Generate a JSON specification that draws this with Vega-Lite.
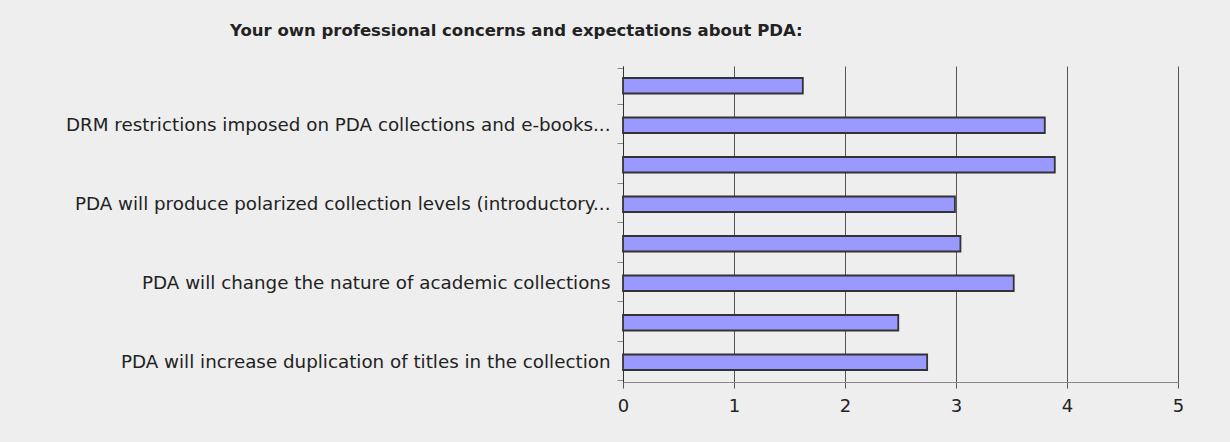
{
  "$schema": "https://vega.github.io/schema/vega-lite/v6.json",
  "width": 555,
  "height": 316,
  "autosize": {"type": "none"},
  "padding": {"left": 623, "top": 66, "right": 52, "bottom": 60},
  "background": "#eeeeee",
  "title": {
    "text": "Your own professional concerns and expectations about PDA:",
    "anchor": "start",
    "frame": "group",
    "dx": -393,
    "offset": 4,
    "baseline": "alphabetic",
    "font": "DejaVu Sans",
    "fontSize": 16.5,
    "fontWeight": "bold",
    "color": "#222222"
  },
  "data": {
    "values": [
      {"order": 1, "label": " ", "mean": 1.62},
      {"order": 2, "label": "DRM restrictions imposed on PDA collections and e-books...", "mean": 3.8},
      {"order": 3, "label": "  ", "mean": 3.89},
      {"order": 4, "label": "PDA will produce polarized collection levels (introductory...", "mean": 2.99},
      {"order": 5, "label": "   ", "mean": 3.04},
      {"order": 6, "label": "PDA will change the nature of academic collections", "mean": 3.52},
      {"order": 7, "label": "    ", "mean": 2.48},
      {"order": 8, "label": "PDA will increase duplication of titles in the collection", "mean": 2.74}
    ]
  },
  "mark": {"type": "bar", "fill": "#9999ff", "stroke": "#333333", "strokeWidth": 1.8, "size": 15.5},
  "encoding": {
    "y": {
      "field": "label",
      "type": "nominal",
      "sort": {"field": "order"},
      "title": null,
      "axis": {
        "tickBand": "extent",
        "tickSize": 6,
        "tickColor": "#888888",
        "domainColor": "#333333",
        "grid": false,
        "labelFont": "DejaVu Sans",
        "labelFontSize": 18.3,
        "labelColor": "#222222",
        "labelPadding": 7,
        "labelLimit": 0
      }
    },
    "x": {
      "field": "mean",
      "type": "quantitative",
      "scale": {"domain": [0, 5], "nice": false},
      "title": null,
      "axis": {
        "values": [0, 1, 2, 3, 4, 5],
        "grid": true,
        "gridColor": "#555555",
        "gridOpacity": 1,
        "tickSize": 6,
        "tickColor": "#555555",
        "domainColor": "#888888",
        "labelFlush": false,
        "labelFont": "DejaVu Sans",
        "labelFontSize": 18,
        "labelColor": "#222222",
        "labelPadding": 9
      }
    }
  },
  "config": {"view": {"stroke": null}}
}
